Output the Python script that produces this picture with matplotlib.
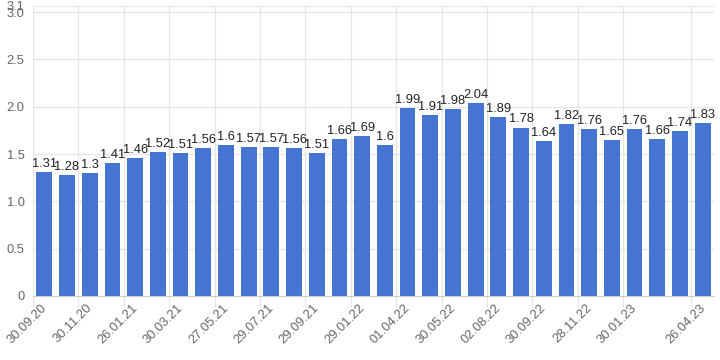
import matplotlib
matplotlib.use('Agg')
import matplotlib.pyplot as plt
import matplotlib.transforms as mtransforms
import numpy as np

# values, left to right
values = [1.31, 1.28, 1.3, 1.41, 1.46, 1.52, 1.51, 1.56, 1.6, 1.57,
          1.57, 1.56, 1.51, 1.66, 1.69, 1.6, 1.99, 1.91, 1.98, 2.04,
          1.89, 1.78, 1.64, 1.82, 1.76, 1.65, 1.76, 1.66, 1.74, 1.83]

# date labels and the bar they start at
tick_labels = ['30.09.20', '30.11.20', '26.01.21', '30.03.21', '27.05.21',
               '29.07.21', '29.09.21', '29.01.22', '01.04.22', '30.05.22',
               '02.08.22', '30.09.22', '28.11.22', '30.01.23', '26.04.23']
tick_bars = [0, 2, 4, 6, 8, 10, 12, 14, 16, 18, 20, 22, 24, 26, 29]

y_top = 3.065
y_ticks = [0, 0.5, 1.0, 1.5, 2.0, 2.5, 3.0, y_top]
y_tick_labels = ['0', '0.5', '1.0', '1.5', '2.0', '2.5', '3.0', '3.1']

plt.rcParams['font.family'] = ['Liberation Sans', 'DejaVu Sans']

fig = plt.figure(figsize=(7.2, 3.6), dpi=100)
ax = fig.add_axes([33 / 720, 64 / 360, 681 / 720, 290 / 360])

x = np.arange(len(values))
ax.bar(x, values, width=0.7, color='#4674d2', zorder=3)

for xi, v in zip(x, values):
    ax.annotate(f'{v:g}', (xi, v), xytext=(0, 1.5), textcoords='offset points',
                ha='center', va='bottom', fontsize=9.3, color='#222222', zorder=4)

ax.set_xlim(-0.5, len(values) - 0.5)
ax.set_ylim(0, y_top)

tick_pos = [b - 0.5 for b in tick_bars]
ax.set_xticks(tick_pos)
ax.set_xticklabels([])
# rotated date labels, right end placed a bit right of and below the tick
lab_trans = ax.get_xaxis_transform() + mtransforms.ScaledTranslation(
    12 / 100, -10 / 100, fig.dpi_scale_trans)
for pos, lab in zip(tick_pos, tick_labels):
    ax.text(pos, 0, lab, transform=lab_trans, rotation=45, rotation_mode='anchor',
            ha='right', va='center', fontsize=9.3, color='#666666', clip_on=False)

ax.set_yticks(y_ticks)
ax.set_yticklabels(y_tick_labels, fontsize=9.3, color='#666666')

ax.grid(True, color='#e6e6e6', linewidth=1, zorder=0)
ax.tick_params(axis='x', length=8, color='#e6e6e6', width=1)
ax.tick_params(axis='y', length=0, pad=6)

for side in ['top', 'right', 'left']:
    ax.spines[side].set_visible(False)
ax.spines['bottom'].set_color('#cccccc')
ax.spines['bottom'].set_zorder(5)

fig.savefig('out.png', dpi=100)
